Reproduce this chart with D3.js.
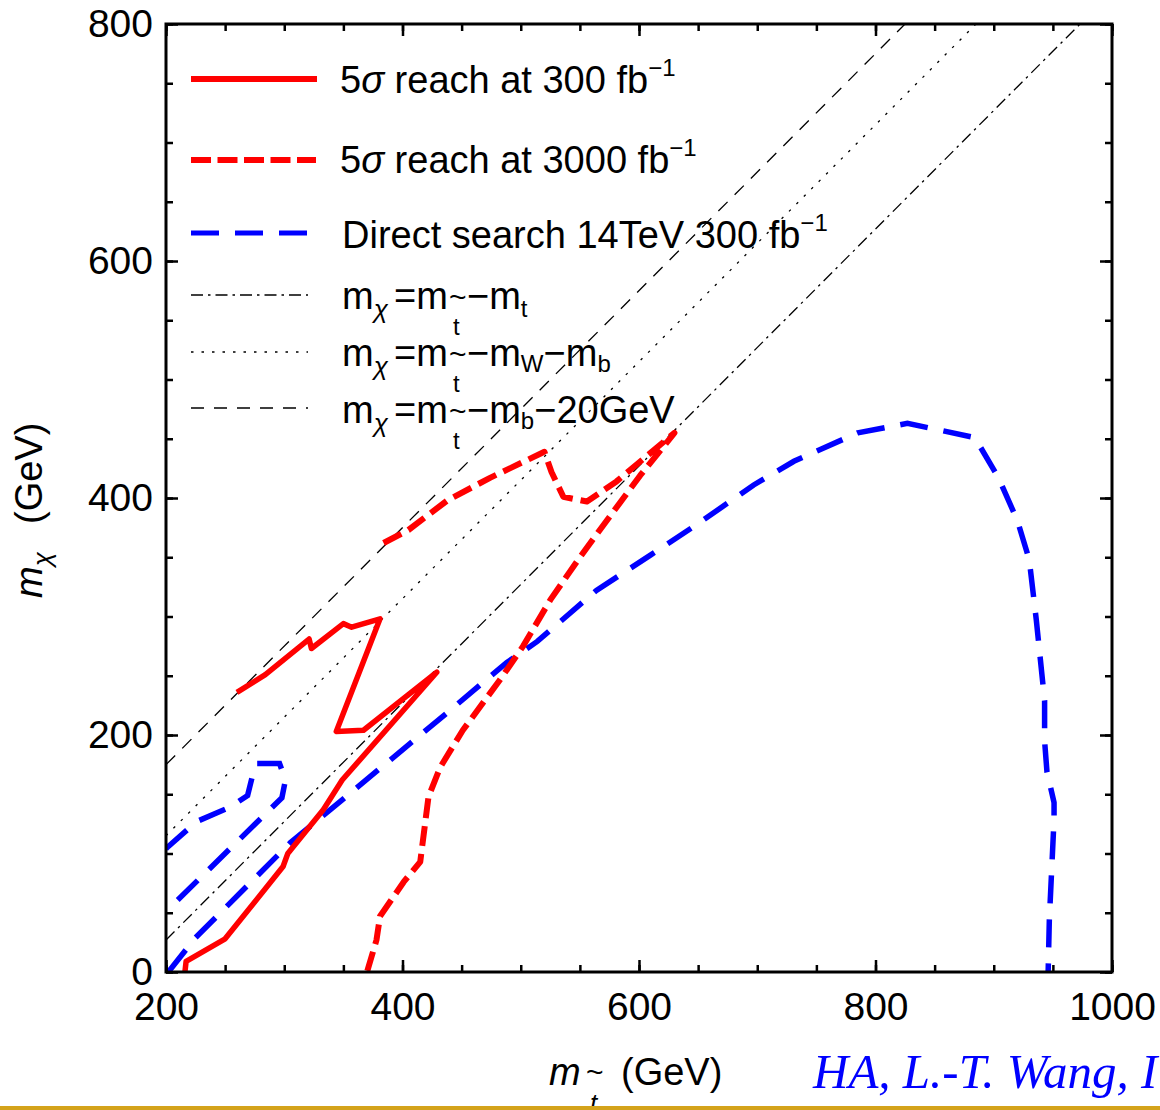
<!DOCTYPE html>
<html>
<head>
<meta charset="utf-8">
<script src="https://cdn.jsdelivr.net/npm/d3@7/dist/d3.min.js"></script>
<style>
  body { margin: 0; background: #fff; }
  svg { display: block; font-family: "Liberation Sans", Arial, sans-serif; }
</style>
</head>
<body>
<svg id="chart" width="1160" height="1110"></svg>
<script>
/********** data (GeV) **********/
var xDomain = [200, 1000];
var yDomain = [0, 800];
var xTickLabels = [200, 400, 600, 800, 1000];
var yTickLabels = [0, 200, 400, 600, 800];

// 5 sigma reach, 300 fb-1 (solid red)
var reach300 = [[260,236],[284,251],[321,281],[323,273],[350,294],[357,291],[381,298],
                [344,203],[367,204],[429,253],[349,162],[333,137],[303,100],[299,89],
                [250,28],[217,9],[216,0]];

// 5 sigma reach, 3000 fb-1 (dashed red)
var reach3000 = [[384,362],[405,373],[438,398],[474,417],[520,439],[526,422],[536,401],
                 [556,397],[581,414],[630,455],[601,419],[575,384],[550,350],[525,314],
                 [502,275],[482,246],[451,204],[432,173],[422,148],[415,93],[401,76],
                 [381,47],[378,27],[370,0]];

// direct search 14 TeV 300 fb-1 (dashed blue), two pieces
var directMain = [[202,0],[225,29],[305,109],[339,137],[438,219],[488,261],[514,279],
                  [564,322],[610,352],[648,377],[697,411],[731,431],[785,455],[827,463],
                  [884,451],[904,417],[920,381],[930,348],[936,297],[943,229],[943,195],
                  [945,169],[951,143],[951,129],[947,44],[946,0]];
var directLow = [[200,104],[202,106],[226,127],[254,139],[269,149],[273,165],[277,176],
                 [296,176],[301,162],[298,147],[203,54],[200,51]];

// kinematic boundaries m_chi = m_stop - offset
var boundaryNames = ["m_t", "m_W + m_b", "m_b + 20 GeV"];
var boundaryOffsets = [173, 85, 25];
var boundaryDash = ["12,5,2.5,5", "2.5,8", "13,10"];

/********** setup **********/
var svg = d3.select("#chart");
var frame = {left: 166, right: 1112, top: 24, bottom: 972};

var x = d3.scaleLinear().domain(xDomain).range([frame.left, frame.right]);
var y = d3.scaleLinear().domain(yDomain).range([frame.bottom, frame.top]);

svg.append("defs").append("clipPath").attr("id", "plotClip")
   .append("rect")
   .attr("x", frame.left).attr("y", frame.top)
   .attr("width", frame.right - frame.left).attr("height", frame.bottom - frame.top);

var line = d3.line().x(function(d) { return x(d[0]); }).y(function(d) { return y(d[1]); });

/********** legend (drawn first, lines go over) **********/
var lg = svg.append("g");

// parts: [text, x or null (flow), y, size, italic]
function rich(parent, parts) {
    var t = parent.append("text").attr("fill", "#000");
    parts.forEach(function(p) {
        var s = t.append("tspan")
         .attr("y", p[2])
         .attr("font-size", p[3])
         .attr("font-style", p[4] ? "italic" : "normal")
         .text(p[0]);
        if (p[1] != null) s.attr("x", p[1]);
    });
    return t;
}

function legendLine(y0, x2, color, width, dash) {
    lg.append("line")
      .attr("x1", 191).attr("x2", x2).attr("y1", y0).attr("y2", y0)
      .attr("stroke", color).attr("stroke-width", width)
      .attr("stroke-dasharray", dash);
}

legendLine(79, 317, "#ff0000", 6, null);
rich(lg, [["5", 340, 93, 38], ["σ", null, 93, 38, true], [" reach at 300 fb", null, 93, 38], ["−1", null, 76, 24]]);

legendLine(160, 316, "#ff0000", 6, "20,6.5");
rich(lg, [["5", 340, 173, 38], ["σ", null, 173, 38, true], [" reach at 3000 fb", null, 173, 38], ["−1", null, 156, 24]]);

legendLine(233, 308, "#0000ff", 5, "28,16");
rich(lg, [["Direct search 14TeV 300 fb", 342, 248, 38], ["−1", null, 231, 24]]);

var mathRows = [
    [295, 309, [["−m", 467, 0, 38], ["t", null, 8, 24]]],
    [352, 366, [["−m", 467, 0, 38], ["W", null, 6, 24], ["−m", null, 0, 38], ["b", null, 6, 24]]],
    [408, 423, [["−m", 467, 0, 38], ["b", null, 6, 24], ["−20GeV", null, 0, 38]]]
];
mathRows.forEach(function(r, i) {
    legendLine(r[0], 308, "#000", 1.3, boundaryDash[i]);
    var b = r[1];
    var parts = [["m", 342, b, 38], ["χ", null, b + 9, 26, true], ["=m", 394, b, 38],
                 ["~", 449, b - 2, 30], ["t", 453, b + 26, 24]];
    r[2].forEach(function(p) { parts.push([p[0], p[1], b + p[2], p[3]]); });
    rich(lg, parts);
});

/********** plot contents **********/
var plot = svg.append("g").attr("clip-path", "url(#plotClip)");

plot.selectAll(".boundary")
    .data(boundaryOffsets)
    .enter().append("path")
    .attr("class", "boundary")
    .attr("d", function(off) { return line([[200, 200 - off], [1000, 1000 - off]]); })
    .attr("fill", "none")
    .attr("stroke", "#000")
    .attr("stroke-width", 1.3)
    .attr("stroke-dasharray", function(d, i) { return boundaryDash[i]; });

[directMain, directLow].forEach(function(pts) {
    plot.append("path")
        .attr("d", line(pts))
        .attr("fill", "none")
        .attr("stroke", "#0000ff")
        .attr("stroke-width", 5.5)
        .attr("stroke-dasharray", "28,16");
});

plot.append("path")
    .attr("d", line(reach3000))
    .attr("fill", "none")
    .attr("stroke", "#ff0000")
    .attr("stroke-width", 6)
    .attr("stroke-linejoin", "round")
    .attr("stroke-dasharray", "20,8");

plot.append("path")
    .attr("d", line(reach300))
    .attr("fill", "none")
    .attr("stroke", "#ff0000")
    .attr("stroke-width", 5.5)
    .attr("stroke-linejoin", "round");

/********** axes **********/
var minorX = d3.range(200, 1001, 50);
var minorY = d3.range(0, 801, 50);

function styleAxis(g) {
    g.select(".domain").remove();
    g.selectAll("line").attr("stroke", "#000").attr("stroke-width", 2.5);
    g.selectAll("text").attr("font-size", 39).attr("fill", "#000")
     .attr("font-family", "Liberation Sans, Arial, sans-serif");
}

function addAxis(axisFn, scale, minor, major, transform, labels, pad) {
    svg.append("g").attr("transform", transform)
       .call(axisFn(scale).tickValues(minor).tickSize(-7).tickFormat(""))
       .call(styleAxis);
    svg.append("g").attr("transform", transform)
       .call(axisFn(scale).tickValues(major).tickSize(-12).tickPadding(pad)
             .tickFormat(labels ? d3.format("d") : ""))
       .call(styleAxis);
}

addAxis(d3.axisBottom, x, minorX, xTickLabels, "translate(0," + frame.bottom + ")", true, 20);
addAxis(d3.axisTop, x, minorX, xTickLabels, "translate(0," + frame.top + ")", false, 0);
addAxis(d3.axisLeft, y, minorY, yTickLabels, "translate(" + frame.left + ",0)", true, 13);
addAxis(d3.axisRight, y, minorY, yTickLabels, "translate(" + frame.right + ",0)", false, 0);

svg.append("rect")
   .attr("x", frame.left).attr("y", frame.top)
   .attr("width", frame.right - frame.left).attr("height", frame.bottom - frame.top)
   .attr("fill", "none").attr("stroke", "#000").attr("stroke-width", 3);

/********** axis titles **********/
rich(svg, [["m", 549, 1085, 38, true], ["~", 586, 1082, 30], ["t", 590, 1112, 26, true], ["(GeV)", 621, 1085, 38]]);

var yt = rich(svg, [["m", 0, 0, 38, true], ["χ", null, 9, 26, true], ["(GeV)", 74, 0, 38]]);
yt.attr("transform", "translate(42,598) rotate(-90)");

svg.append("text")
   .attr("x", 813).attr("y", 1088)
   .attr("font-family", "Liberation Serif, Times New Roman, serif")
   .attr("font-style", "italic")
   .attr("font-size", 49)
   .attr("fill", "#0000ff")
   .text("HA, L.-T. Wang, I");

// gold rule at the bottom of the slide
svg.append("rect")
   .attr("x", 0).attr("y", 1106).attr("width", 1160).attr("height", 5)
   .attr("fill", "#d4a31a");
</script>
</body>
</html>
